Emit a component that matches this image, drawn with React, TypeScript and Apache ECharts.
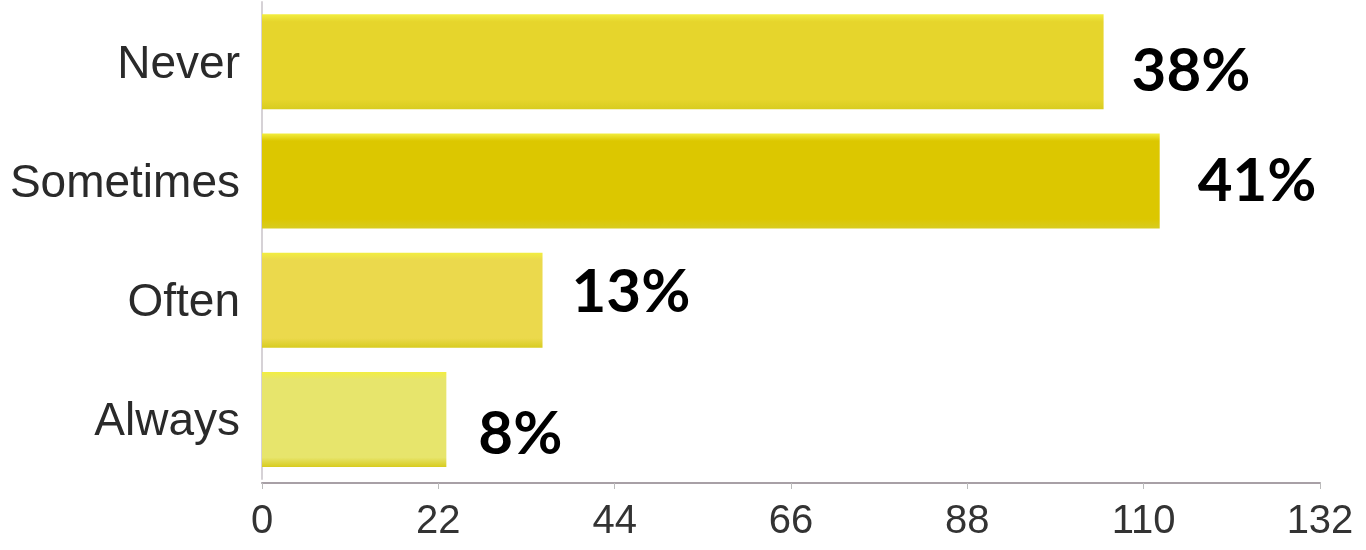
import React, { useEffect, useRef } from "react";
import * as echarts from "echarts";

const categories = ["Never", "Sometimes", "Often", "Always"];
const counts = [105, 112, 35, 23];
const barColors = ["#e6d52c", "#dcc700", "#ebd94c", "#e7e56c"];
const labelOffsets: [number, number][] = [
  [0, 6],
  [10, -3],
  [1, -11],
  [4, 12],
];
const xTicks = { min: 0, max: 132, interval: 22 };

export default function App() {
  const ref = useRef<HTMLDivElement>(null);
  useEffect(() => {
    if (!ref.current) return;
    const chart = echarts.init(ref.current, undefined, { renderer: "svg" });
    const total = counts.reduce((a, b) => a + b, 0);
    const data = counts.map((v, i) => ({
      value: v,
      itemStyle: {
        color: new echarts.graphic.LinearGradient(0, 0, 0, 1, [
          { offset: 0, color: "#f2ee40" },
          { offset: 0.08, color: barColors[i] },
          { offset: 0.9, color: barColors[i] },
          { offset: 1, color: "#d8cc20" },
        ]),
      },
      label: { offset: labelOffsets[i] },
    }));
    chart.setOption({
      animation: false,
      grid: { left: 262, right: 46, top: 2, bottom: 71, containLabel: false },
      xAxis: {
        type: "value",
        min: xTicks.min,
        max: xTicks.max,
        interval: xTicks.interval,
        offset: 4,
        axisLine: { show: true, lineStyle: { color: "#a8a0a6", width: 2 } },
        axisTick: { show: true, length: 6, lineStyle: { color: "#bbbbbb" } },
        splitLine: { show: false },
        axisLabel: {
          fontFamily: "Liberation Sans, Arial, sans-serif",
          fontSize: 40,
          color: "#333333",
          margin: 16,
        },
      },
      yAxis: {
        type: "category",
        data: categories,
        inverse: true,
        axisLine: { show: true, lineStyle: { color: "#d6d2d6", width: 2 } },
        axisTick: { show: false },
        axisLabel: {
          fontFamily: "Liberation Sans, Arial, sans-serif",
          fontSize: 46,
          color: "#2a2a2a",
          margin: 22,
        },
      },
      series: [
        {
          type: "bar",
          data,
          barWidth: 95,
          label: {
            show: true,
            position: "right",
            distance: 28,
            fontFamily: "Lato, Open Sans, sans-serif",
            fontWeight: "bold",
            fontSize: 60,
            color: "#000000",
            formatter: (p: any) => Math.round((p.value / total) * 100) + "%",
          },
        },
      ],
    });
    return () => chart.dispose();
  }, []);
  return (
    <div
      ref={ref}
      style={{ position: "fixed", left: 0, top: 0, width: 1366, height: 550 }}
    />
  );
}
